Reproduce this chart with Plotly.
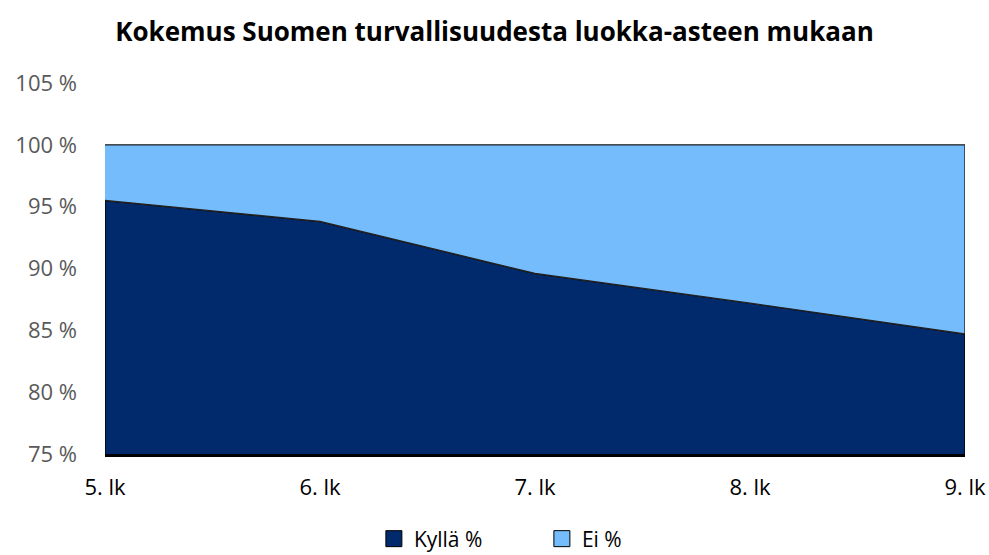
import plotly.graph_objects as go

categories = ["5. lk", "6. lk", "7. lk", "8. lk", "9. lk"]
kylla = [95.5, 93.8, 89.6, 87.2, 84.7]
ei = [4.5, 6.2, 10.4, 12.8, 15.3]
y_ticks = [75, 80, 85, 90, 95, 100, 105]
y_tick_labels = [f"{v} %" for v in y_ticks]
series_names = ["Kyllä %", "Ei %"]
series_colors = ["#002A6B", "#75BCFD"]

y_min, y_max = 75, 105
total = [k + e for k, e in zip(kylla, ei)]

FONT = "Open Sans"

fig = go.Figure()
# Kyllä area (closed polygon from axis base to its values)
fig.add_trace(go.Scatter(
    x=[categories[0]] + categories + [categories[-1]],
    y=[y_min] + kylla + [y_min],
    fill="toself", mode="lines",
    fillcolor=series_colors[0], line=dict(color="#000000", width=1.4),
    name=series_names[0], hoverinfo="skip", showlegend=False,
))
# Ei area stacked on Kyllä
fig.add_trace(go.Scatter(
    x=categories + categories[::-1],
    y=total + kylla[::-1],
    fill="toself", mode="lines",
    fillcolor=series_colors[1], line=dict(color="#222222", width=1.4),
    name=series_names[1], hoverinfo="skip", showlegend=False,
))
# legend keys
for name, col in zip(series_names, series_colors):
    fig.add_trace(go.Scatter(
        x=[None], y=[None], mode="markers", name=name,
        marker=dict(symbol="square", size=17, color=col,
                    line=dict(color="#000000", width=1)),
        hoverinfo="skip",
    ))

fig.update_layout(
    width=989, height=555,
    margin=dict(l=105, r=24, t=83, b=101, autoexpand=False),
    paper_bgcolor="white", plot_bgcolor="white",
    title=dict(text="<b>Kokemus Suomen turvallisuudesta luokka-asteen mukaan</b>",
               x=0.5, xanchor="center", yref="container", y=1 - 32 / 555, yanchor="middle",
               font=dict(family=FONT, size=26, color="#000000")),
    font=dict(family=FONT),
    showlegend=True,
    legend=dict(orientation="h", x=0.508, xanchor="center", yref="container",
                y=16 / 555, yanchor="middle",
                font=dict(family=FONT, size=21, color="#000000"),
                itemwidth=30, traceorder="normal", entrywidth=123),
)
fig.update_xaxes(
    type="category", range=[0, len(categories) - 1],
    showgrid=False, showline=True, linecolor="#000000", linewidth=3,
    ticks="", tickfont=dict(family=FONT, size=22, color="#000000"),
    ticklabelstandoff=12, zeroline=False, automargin=False,
)
fig.update_yaxes(
    range=[y_min, y_max], tickvals=y_ticks, ticktext=y_tick_labels,
    showgrid=True, gridcolor="#D9D9D9", gridwidth=1.5,
    showline=False, zeroline=False, ticks="",
    tickfont=dict(family=FONT, size=22, color="#595959"),
    ticklabelstandoff=27, automargin=False,
)

fig.write_html("out.html", config={"displayModeBar": False},
               post_script="document.body.style.margin='0';")
